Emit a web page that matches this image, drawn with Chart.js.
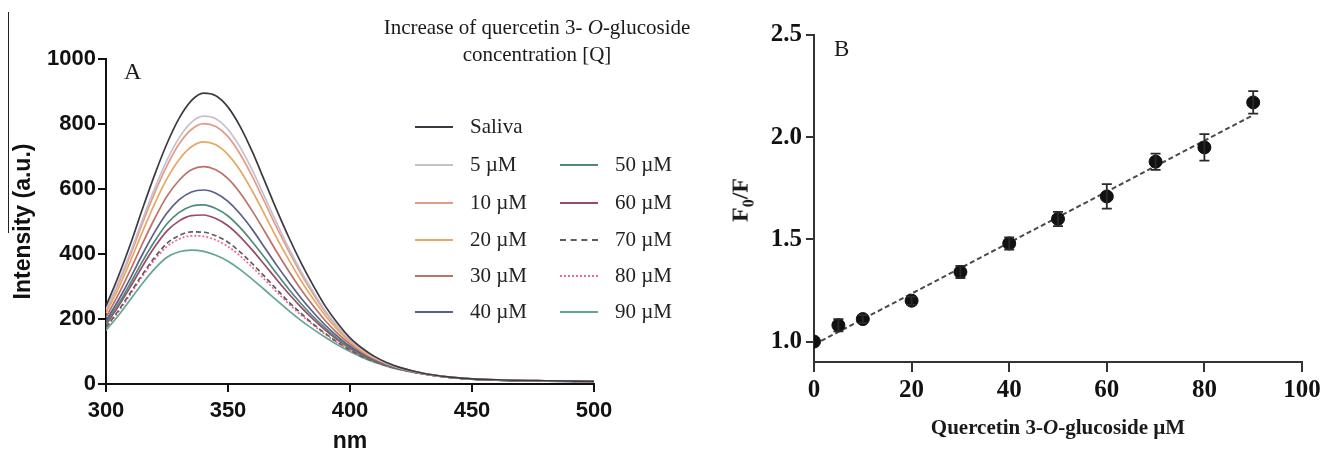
<!DOCTYPE html>
<html>
<head>
<meta charset="utf-8">
<script src="https://cdn.jsdelivr.net/npm/chart.js@4.4.1/dist/chart.umd.min.js"></script>
<style>
  html,body{margin:0;padding:0;background:#fff;}
  #wrap{position:relative;width:1325px;height:457px;overflow:hidden;background:#fff;}
  canvas{position:absolute;top:0;}
  .serif{font-family:"Liberation Serif","Times New Roman",serif;color:#1a1a1a;}
  .abs{position:absolute;white-space:nowrap;}
  .leg{position:absolute;font-family:"Liberation Serif",serif;font-size:21px;color:#222;line-height:24px;white-space:nowrap;}
  .sw{position:absolute;width:38px;height:0;}
</style>
</head>
<body>
<div id="wrap">
  <div class="abs" style="left:8px;top:12px;width:1px;height:221px;background:#222;"></div>
  <canvas id="cA" width="700" height="457" style="left:0;width:700px;height:457px;"></canvas>
  <canvas id="cB" width="625" height="457" style="left:700px;width:625px;height:457px;"></canvas>
  <div class="abs serif" style="left:537px;top:14px;transform:translateX(-50%);font-size:21px;line-height:27px;text-align:center;">Increase of quercetin 3- <i>O</i>-glucoside<br>concentration [Q]</div>
  <div class="abs serif" style="left:124px;top:58px;font-size:24px;">A</div>
  <div class="abs serif" style="left:834px;top:36px;font-size:23px;">B</div>
  <div id="legend"></div>
  <div class="abs serif" style="left:742px;top:200px;transform:translate(-50%,-50%) rotate(-90deg);font-size:24px;font-weight:bold;">F<sub style="font-size:16px;">0</sub>/F</div>
  <div class="abs serif" style="left:1058px;top:427px;transform:translate(-50%,-50%);font-size:21px;font-weight:bold;">Quercetin 3-<i>O</i>-glucoside µM</div>
</div>
<script>
// ---------- Panel A data: fluorescence spectra ----------
const wavelength = [300,305,310,315,320,325,330,335,340,345,350,355,360,365,370,375,380,385,390,395,400,405,410,415,420,430,440,450,460,480,500];
const saliva = [240,330,430,540,645,740,818,872,895,887,852,792,714,625,535,450,372,302,238,186,142,110,85,66,52,33,22,16,13,10,8];
const q5  = [229,313,405,507,603,689,758,805,824,816,783,728,657,576,495,417,346,283,224,176,136,106,82,64,51,33,22,16,13,10,8];
const q10 = [226,307,397,496,589,672,739,783,801,792,761,707,638,560,481,407,338,276,220,173,134,105,82,64,51,33,22,16,13,10,8];
const q20 = [217,293,378,469,556,632,691,730,745,736,706,657,593,522,449,381,317,261,209,166,129,101,79,63,50,32,22,16,13,10,8];
const q30 = [205,274,351,433,510,578,627,659,669,659,632,588,532,470,406,346,290,240,194,155,123,97,77,61,49,32,22,16,13,10,8];
const q40 = [194,257,326,400,468,526,567,591,597,587,562,523,475,420,365,313,264,220,180,146,116,93,74,59,48,32,21,15,12,9,8];
const q50 = [187,245,310,378,440,493,528,547,551,540,517,481,437,389,339,291,247,207,171,139,112,90,72,58,47,32,21,15,12,9,8];
const q60 = [182,238,299,363,422,471,502,518,520,509,487,453,412,367,321,277,236,199,165,135,110,88,71,58,47,31,21,15,12,9,8];
const q70 = [174,225,281,338,390,433,457,468,467,456,436,406,370,331,291,252,217,184,155,128,105,85,69,56,46,31,21,15,12,9,8];
const q80 = [172,221,276,332,383,423,446,456,454,443,423,394,359,322,283,246,212,181,152,126,104,85,69,56,46,31,21,15,12,9,8];
const q90 = [165,210,260,310,355,390,407,412,408,396,378,352,322,290,257,225,195,168,143,120,100,82,67,55,45,31,21,15,12,9,8];
const seriesLabels = ["Saliva","5 µM","10 µM","20 µM","30 µM","40 µM","50 µM","60 µM","70 µM","80 µM","90 µM"];
const xTicksA = [300,350,400,450,500];
const yTicksA = [0,200,400,600,800,1000];

// ---------- Panel B data: Stern-Volmer ----------
const conc  = [0,5,10,20,30,40,50,60,70,80,90];
const ratio = [1.00,1.08,1.11,1.20,1.34,1.48,1.60,1.71,1.88,1.95,2.17];
const err   = [0,0.03,0.02,0.02,0.03,0.03,0.035,0.06,0.04,0.065,0.055];
const fitX  = [0,90];
const fitY  = [0.985,2.108];
const xTicksB = [0,20,40,60,80,100];
const yTicksB = [1.0,1.5,2.0,2.5];

// ---------- styles ----------
const allSeries = [saliva,q5,q10,q20,q30,q40,q50,q60,q70,q80,q90];
const colors = ['#3a3a42','#c6bfd0','#e39a86','#e6a862','#bf7068','#5a5e8a','#4f8a76','#9a4b6b','#5e5e5e','#f06a8e','#62a696'];
const dashes = [[],[],[],[],[],[],[],[],[5,3],[2,2],[]];

const datasetsA = allSeries.map((arr,i)=>({
  label: seriesLabels[i],
  data: wavelength.map((w,j)=>({x:w,y:arr[j]})),
  borderColor: colors[i],
  borderWidth: 1.7,
  borderDash: dashes[i],
  pointRadius: 0,
  fill: false,
  cubicInterpolationMode: 'monotone'
}));

const sansBold = {family:'"Liberation Sans", Arial, sans-serif', size:22, weight:'bold'};

new Chart(document.getElementById('cA'), {
  type:'line',
  data:{datasets:datasetsA},
  options:{
    responsive:false, animation:false,
    layout:{padding:{left:0,top:59,right:106,bottom:0}},
    plugins:{legend:{display:false},tooltip:{enabled:false}},
    scales:{
      x:{type:'linear',min:300,max:500,
        afterBuildTicks:s=>{s.ticks=xTicksA.map(v=>({value:v}));},
        afterFit:s=>{s.height=73;},
        grid:{drawOnChartArea:false,drawTicks:true,tickLength:8,color:'#111',lineWidth:2},
        border:{display:true,color:'#111',width:2},
        ticks:{font:sansBold,color:'#111',padding:6,maxRotation:0,callback:v=>String(v)},
        title:{display:true,text:'nm',font:{family:'"Liberation Sans", Arial, sans-serif',size:23,weight:'bold'},color:'#111',padding:{top:0,bottom:2}}
      },
      y:{type:'linear',min:0,max:1000,
        afterBuildTicks:s=>{s.ticks=yTicksA.map(v=>({value:v}));},
        afterFit:s=>{s.width=106;},
        grid:{drawOnChartArea:false,drawTicks:true,tickLength:8,color:'#111',lineWidth:2},
        border:{display:true,color:'#111',width:2},
        ticks:{font:sansBold,color:'#111',padding:2,callback:v=>String(v)},
        title:{display:true,text:'Intensity (a.u.)',font:{family:'"Liberation Sans", Arial, sans-serif',size:23,weight:'bold'},color:'#111',padding:{top:10,bottom:0}}
      }
    }
  }
});

// HTML legend for panel A
(function(){
  const lg = document.getElementById('legend');
  const pos = [
    [415,127],[415,165],[415,203],[415,240],[415,276],[415,312],
    [560,165],[560,203],[560,240],[560,276],[560,312]
  ];
  seriesLabels.forEach((lab,i)=>{
    const [x,y] = pos[i];
    const sw = document.createElement('div');
    sw.className='sw';
    const style = dashes[i].length ? (dashes[i][0]>3?'dashed':'dotted') : 'solid';
    sw.style.cssText = `left:${x}px;top:${y-1}px;border-top:2px ${style} ${colors[i]};`;
    lg.appendChild(sw);
    const t = document.createElement('div');
    t.className='leg';
    t.style.left = (x+55)+'px';
    t.style.top = (y-13)+'px';
    t.textContent = lab;
    lg.appendChild(t);
  });
})();

// ---------- Panel B ----------
const errorBars = {
  id:'errorBars',
  afterDatasetsDraw(chart){
    const {ctx, scales:{x,y}} = chart;
    ctx.save();
    ctx.strokeStyle='#2a2a2a'; ctx.lineWidth=1.8;
    conc.forEach((c,i)=>{
      if(!err[i]) return;
      const px=x.getPixelForValue(c);
      const top=y.getPixelForValue(ratio[i]+err[i]);
      const bot=y.getPixelForValue(ratio[i]-err[i]);
      ctx.beginPath();
      ctx.moveTo(px,top); ctx.lineTo(px,bot);
      ctx.moveTo(px-5,top); ctx.lineTo(px+5,top);
      ctx.moveTo(px-5,bot); ctx.lineTo(px+5,bot);
      ctx.stroke();
    });
    ctx.restore();
  }
};

const serifBold = {family:'"Liberation Serif","Times New Roman",serif', size:25, weight:'bold'};

new Chart(document.getElementById('cB'), {
  type:'scatter',
  data:{datasets:[
    {label:'fit', data:fitX.map((v,i)=>({x:v,y:fitY[i]})), showLine:true, borderColor:'#4a4a4a', borderWidth:2, borderDash:[5,3], pointRadius:0, order:2},
    {label:'F0/F', data:conc.map((v,i)=>({x:v,y:ratio[i]})), backgroundColor:'#111', borderColor:'#111', pointRadius:6.5, pointHoverRadius:6.5, order:1}
  ]},
  options:{
    responsive:false, animation:false,
    layout:{padding:{left:0,top:35,right:23,bottom:0}},
    plugins:{legend:{display:false},tooltip:{enabled:false}},
    scales:{
      x:{type:'linear',min:0,max:100,
        afterBuildTicks:s=>{s.ticks=xTicksB.map(v=>({value:v}));},
        afterFit:s=>{s.height=95;},
        grid:{drawOnChartArea:false,drawTicks:true,tickLength:10,color:'#333',lineWidth:2},
        border:{display:true,color:'#333',width:2},
        ticks:{font:serifBold,color:'#111',padding:4,maxRotation:0,callback:v=>String(v)}
      },
      y:{type:'linear',min:0.9,max:2.5,
        afterBuildTicks:s=>{s.ticks=yTicksB.map(v=>({value:v}));},
        afterFit:s=>{s.width=114;},
        grid:{drawOnChartArea:false,drawTicks:true,tickLength:8,color:'#333',lineWidth:2},
        border:{display:true,color:'#333',width:2},
        ticks:{font:serifBold,color:'#111',padding:4,callback:v=>Number(v).toFixed(1)}
      }
    }
  },
  plugins:[errorBars]
});
</script>
</body>
</html>
